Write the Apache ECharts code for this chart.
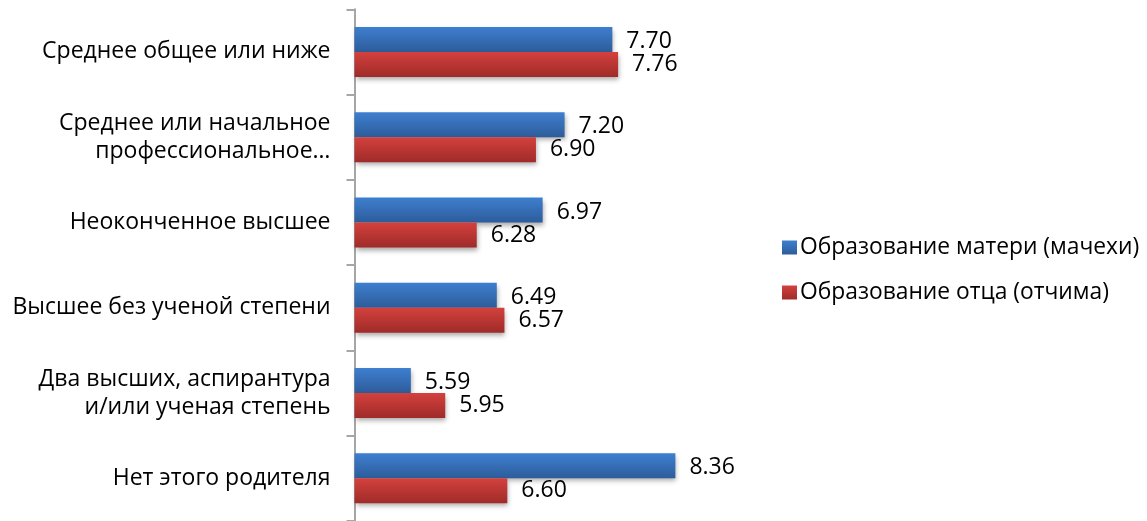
<!DOCTYPE html>
<html>
<head>
<meta charset="utf-8">
<script src="https://cdn.jsdelivr.net/npm/echarts@6/dist/echarts.min.js"></script>
<style>
html,body{margin:0;padding:0;background:#fff;}
#c{width:1147px;height:521px;}
</style>
</head>
<body>
<div id="c"></div>
<script>
const categories = [
  'Среднее общее или ниже',
  'Среднее или начальное\nпрофессиональное…',
  'Неоконченное высшее',
  'Высшее без ученой степени',
  'Два высших, аспирантура\nи/или ученая степень',
  'Нет этого родителя'
];
const seriesNames = ['Образование матери (мачехи)', 'Образование отца (отчима)'];
const motherValues = [7.70, 7.20, 6.97, 6.49, 5.59, 8.36];
const fatherValues = [7.76, 6.90, 6.28, 6.57, 5.95, 6.60];

const FONT = '"Open Sans", sans-serif';
const chart = echarts.init(document.getElementById('c'));

function grad(top, bottom) {
  return new echarts.graphic.LinearGradient(0, 0, 0, 1, [
    {offset: 0, color: top},
    {offset: 1, color: bottom}
  ]);
}

const labelCfg = {
  show: true,
  position: 'right',
  distance: 14,
  color: '#000',
  fontFamily: FONT,
  fontSize: 23,
  formatter: p => p.value.toFixed(2)
};

chart.setOption({
  animation: false,
  textStyle: {fontFamily: FONT},
  grid: {left: 354.5, top: 9.3, width: 382, height: 518, containLabel: false},
  legend: {
    orient: 'vertical',
    left: 777,
    top: 231,
    itemWidth: 15,
    itemHeight: 14,
    itemGap: 22,
    icon: 'rect',
    textStyle: {fontFamily: FONT, fontSize: 22.8, color: '#000', padding: [0, 0, 0, -2]},
    data: seriesNames
  },
  xAxis: {
    type: 'value',
    min: 5,
    max: 9,
    show: false
  },
  yAxis: {
    type: 'category',
    inverse: true,
    data: categories,
    axisLine: {show: true, lineStyle: {color: '#A6A6A6', width: 2}},
    axisTick: {show: true, length: 8, lineStyle: {color: '#A6A6A6', width: 2}},
    axisLabel: {
      margin: 24,
      color: '#000',
      fontFamily: FONT,
      fontSize: 23,
      lineHeight: 28,
      align: 'right'
    },
    splitLine: {show: false}
  },
  series: [
    {
      name: seriesNames[0],
      type: 'bar',
      data: motherValues,
      barWidth: 25,
      barGap: '0%',
      itemStyle: {
        color: grad('#3E7FD0', '#2D5C9A'),
        shadowColor: 'rgba(0,0,0,0.35)',
        shadowBlur: 5,
        shadowOffsetX: 1,
        shadowOffsetY: 3
      },
      label: Object.assign({}, labelCfg, {offset: [0, 2]})
    },
    {
      name: seriesNames[1],
      type: 'bar',
      data: fatherValues,
      barWidth: 25,
      barGap: '0%',
      itemStyle: {
        color: grad('#D3413D', '#9F2B29'),
        shadowColor: 'rgba(0,0,0,0.35)',
        shadowBlur: 5,
        shadowOffsetX: 1,
        shadowOffsetY: 3
      },
      label: labelCfg
    }
  ]
});
</script>
</body>
</html>
